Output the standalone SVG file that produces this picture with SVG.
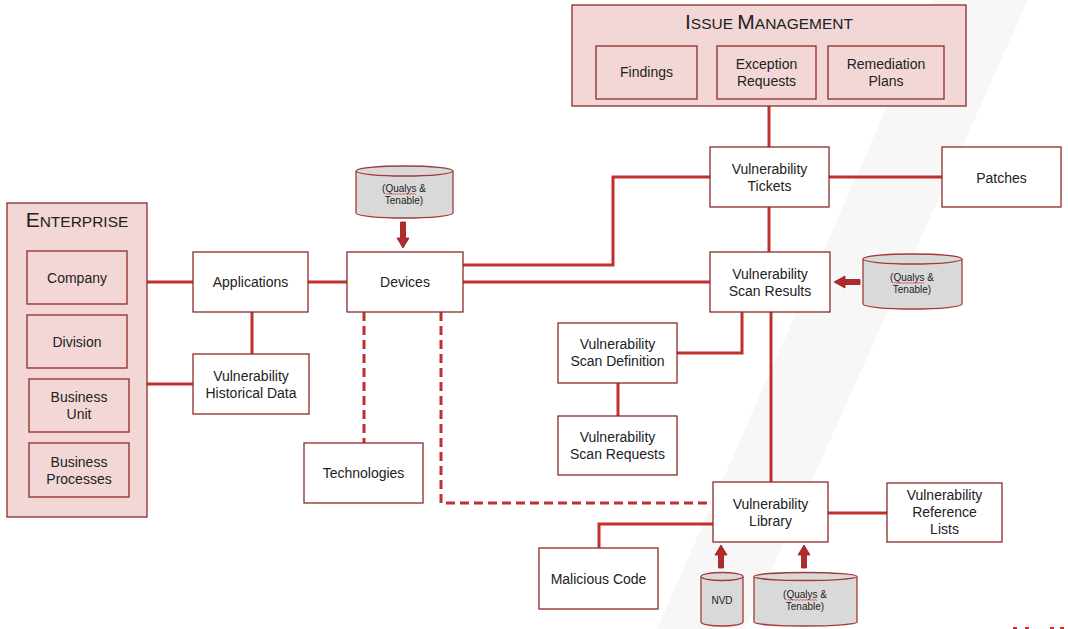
<svg xmlns="http://www.w3.org/2000/svg" width="1068" height="629" viewBox="0 0 1068 629">
<style>
.pink{fill:#f3d7d7;stroke:#8e2a2a;stroke-width:1.3}
.box{fill:#fff;stroke:#8e2a2a;stroke-width:1.3}
.ln{stroke:#c0302e;stroke-width:3;fill:none}
.dash{stroke:#c0302e;stroke-width:3;fill:none;stroke-dasharray:9 5}
.cyl{fill:#d9d9d9;stroke:#a33a3a;stroke-width:1.3}
.t{font-family:'Liberation Sans',Arial,sans-serif;font-size:14px;fill:#222;text-anchor:middle}
.s{font-size:10px}
.big{font-size:21px}
.sm{font-size:15.5px}
.arr{fill:#b22a2a;stroke:#8a1c1c;stroke-width:0.8}
.wavy{stroke:#e03030;stroke-width:0.7;fill:none}
</style>
<rect width="1068" height="629" fill="#fff"/>
<polygon points="934,0 1028,0 745,629 657,629" fill="#f7f7f7"/>
<g fill="#d32f2f">
<rect x="1013" y="627" width="4" height="2"/><rect x="1025" y="627" width="4" height="2"/><rect x="1050" y="627" width="4" height="2"/><rect x="1060" y="627" width="4" height="2"/>
</g>

<g id="connectors">
<path class="ln" d="M147,282 H193"/>
<path class="ln" d="M147,384 H193"/>
<path class="ln" d="M252,312 V354"/>
<path class="ln" d="M308,282 H347"/>
<path class="ln" d="M463,265 H613 V177 H710"/>
<path class="ln" d="M463,282 H710"/>
<path class="ln" d="M769,106 V147"/>
<path class="ln" d="M829,177 H942"/>
<path class="ln" d="M769,207 V252"/>
<path class="ln" d="M742,312 V353 H677"/>
<path class="ln" d="M618,383 V416"/>
<path class="ln" d="M771,312 V482"/>
<path class="ln" d="M828,513 H887"/>
<path class="ln" d="M713,524 H599 V548"/>
<path class="dash" d="M364,312 V443"/>
<path class="dash" d="M441,312 V503 H712"/>
<polygon class="arr" points="400.5,222 405.5,222 405.5,238 409,238 403,248 397,238 400.5,238"/>
<polygon class="arr" points="860,279.5 845,279.5 845,276 834,282 845,288 845,284.5 860,284.5"/>
<polygon class="arr" points="718.5,568 723.5,568 723.5,555 727,555 721,545 715,555 718.5,555"/>
<polygon class="arr" points="801.5,568 806.5,568 806.5,555 810,555 804,545 798,555 801.5,555"/>
</g>

<g id="issue-management">
<rect class="pink" x="572" y="5" width="394" height="101"/>
<text class="t" x="769" y="29"><tspan class="big">I</tspan><tspan class="sm">SSUE </tspan><tspan class="big">M</tspan><tspan class="sm">ANAGEMENT</tspan></text>
</g>
<g id="findings"><rect class="pink" x="596" y="46" width="101" height="53"/><text class="t" x="646.5" y="77">Findings</text></g>
<g id="exception-requests"><rect class="pink" x="717" y="46" width="99" height="53"/><text class="t" x="766.5" y="69">Exception<tspan x="766.5" dy="16.5">Requests</tspan></text></g>
<g id="remediation-plans"><rect class="pink" x="828" y="46" width="116" height="53"/><text class="t" x="886" y="69">Remediation<tspan x="886" dy="16.5">Plans</tspan></text></g>

<g id="enterprise">
<rect class="pink" x="7" y="203" width="140" height="314"/>
<text class="t" x="77" y="227"><tspan class="big">E</tspan><tspan class="sm">NTERPRISE</tspan></text>
</g>
<g id="company"><rect class="pink" x="27" y="251" width="100" height="53"/><text class="t" x="77" y="283">Company</text></g>
<g id="division"><rect class="pink" x="27" y="315" width="100" height="53"/><text class="t" x="77" y="347">Division</text></g>
<g id="business-unit"><rect class="pink" x="29" y="379" width="100" height="53"/><text class="t" x="79" y="402">Business<tspan x="79" dy="17">Unit</tspan></text></g>
<g id="business-processes"><rect class="pink" x="29" y="443" width="100" height="54"/><text class="t" x="79" y="467">Business<tspan x="79" dy="17">Processes</tspan></text></g>

<g id="applications"><rect class="box" x="193" y="252" width="115" height="60"/><text class="t" x="250.5" y="287">Applications</text></g>
<g id="devices"><rect class="box" x="347" y="252" width="116" height="60"/><text class="t" x="405" y="287">Devices</text></g>
<g id="historical-data"><rect class="box" x="193" y="354" width="116" height="60"/><text class="t" x="251" y="381">Vulnerability<tspan x="251" dy="17">Historical Data</tspan></text></g>
<g id="technologies"><rect class="box" x="304" y="443" width="119" height="60"/><text class="t" x="363.5" y="478">Technologies</text></g>

<g id="vulnerability-tickets"><rect class="box" x="710" y="147" width="119" height="60"/><text class="t" x="769.5" y="174">Vulnerability<tspan x="769.5" dy="17">Tickets</tspan></text></g>
<g id="patches"><rect class="box" x="942" y="147" width="119" height="60"/><text class="t" x="1001.5" y="183">Patches</text></g>
<g id="scan-results"><rect class="box" x="710" y="252" width="120" height="60"/><text class="t" x="770" y="279">Vulnerability<tspan x="770" dy="17">Scan Results</tspan></text></g>
<g id="scan-definition"><rect class="box" x="558" y="323" width="119" height="60"/><text class="t" x="617.5" y="349">Vulnerability<tspan x="617.5" dy="17">Scan Definition</tspan></text></g>
<g id="scan-requests"><rect class="box" x="558" y="416" width="119" height="59"/><text class="t" x="617.5" y="442">Vulnerability<tspan x="617.5" dy="17">Scan Requests</tspan></text></g>
<g id="vulnerability-library"><rect class="box" x="713" y="482" width="115" height="60"/><text class="t" x="770.5" y="509">Vulnerability<tspan x="770.5" dy="17">Library</tspan></text></g>
<g id="reference-lists"><rect class="box" x="887" y="483" width="115" height="59"/><text class="t" x="944.5" y="500">Vulnerability<tspan x="944.5" dy="17">Reference</tspan><tspan x="944.5" dy="17">Lists</tspan></text></g>
<g id="malicious-code"><rect class="box" x="539" y="548" width="119" height="61"/><text class="t" x="598.5" y="584">Malicious Code</text></g>

<g id="db-devices">
<path class="cyl" d="M356,171 A48.5,5 0 0 1 453,171 V213 A48.5,5 0 0 1 356,213 Z"/>
<path class="cyl" d="M356,171 A48.5,5 0 0 0 453,171" fill="none"/>
<text class="t s" x="404" y="192">(Qualys &amp;<tspan x="404" dy="11.5">Tenable)</tspan></text>
<path class="wavy" d="M386,194.5 l1.5,-1 l1.5,1 l1.5,-1 l1.5,1 l1.5,-1 l1.5,1 l1.5,-1 l1.5,1 l1.5,-1 l1.5,1 l1.5,-1 l1.5,1 l1.5,-1 l1.5,1 l1.5,-1 l1.5,1 l1.5,-1 l1.5,1 l1.5,-1 l1.5,1"/>
</g>
<g id="db-scan">
<path class="cyl" d="M863,259 A49.5,5 0 0 1 962,259 V304 A49.5,5 0 0 1 863,304 Z"/>
<path class="cyl" d="M863,259 A49.5,5 0 0 0 962,259" fill="none"/>
<text class="t s" x="912" y="281">(Qualys &amp;<tspan x="912" dy="12">Tenable)</tspan></text>
<path class="wavy" d="M894,283.5 l1.5,-1 l1.5,1 l1.5,-1 l1.5,1 l1.5,-1 l1.5,1 l1.5,-1 l1.5,1 l1.5,-1 l1.5,1 l1.5,-1 l1.5,1 l1.5,-1 l1.5,1 l1.5,-1 l1.5,1 l1.5,-1 l1.5,1 l1.5,-1 l1.5,1"/>
</g>
<g id="db-nvd">
<path class="cyl" d="M701,576.5 A21,4 0 0 1 743,576.5 V622 A21,4 0 0 1 701,622 Z"/>
<path class="cyl" d="M701,576.5 A21,4 0 0 0 743,576.5" fill="none"/>
<text class="t s" x="722" y="604">NVD</text>
</g>
<g id="db-library">
<path class="cyl" d="M754,576.5 A51.5,4 0 0 1 857,576.5 V622 A51.5,4 0 0 1 754,622 Z"/>
<path class="cyl" d="M754,576.5 A51.5,4 0 0 0 857,576.5" fill="none"/>
<text class="t s" x="805" y="598">(Qualys &amp;<tspan x="805" dy="12">Tenable)</tspan></text>
<path class="wavy" d="M787,600.5 l1.5,-1 l1.5,1 l1.5,-1 l1.5,1 l1.5,-1 l1.5,1 l1.5,-1 l1.5,1 l1.5,-1 l1.5,1 l1.5,-1 l1.5,1 l1.5,-1 l1.5,1 l1.5,-1 l1.5,1 l1.5,-1 l1.5,1 l1.5,-1 l1.5,1"/>
</g>
</svg>
